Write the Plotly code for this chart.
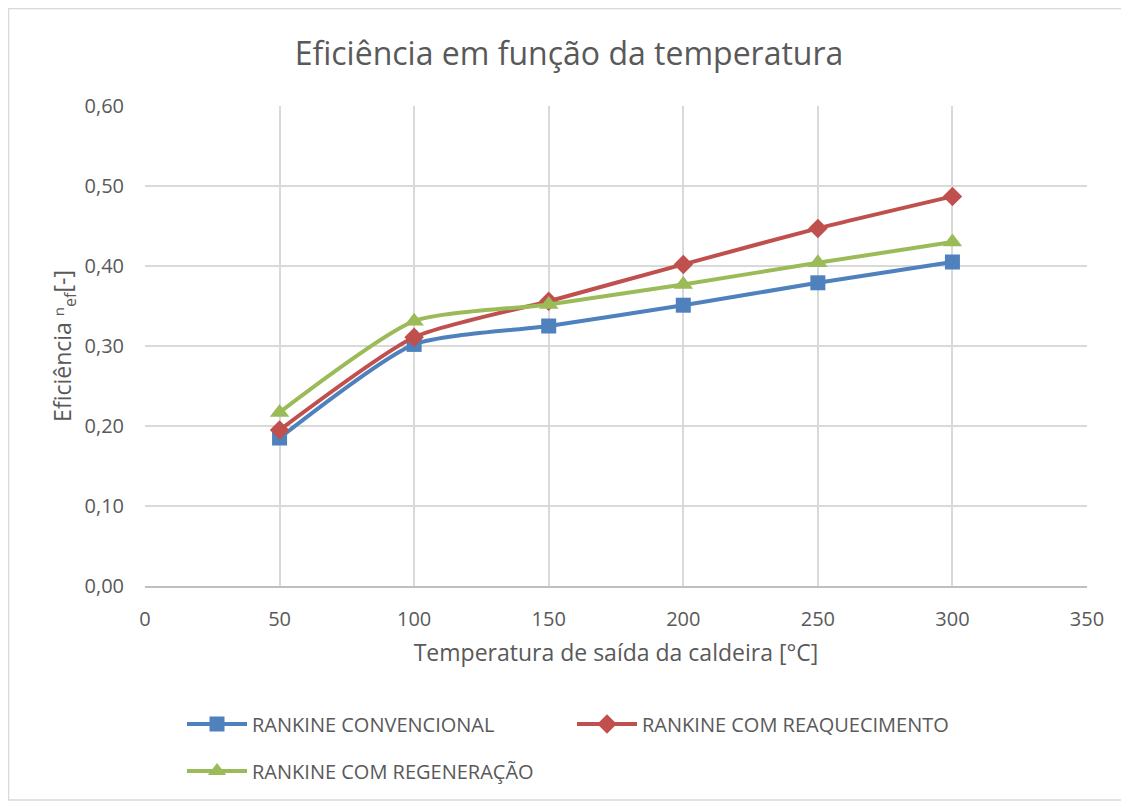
import plotly.graph_objects as go

temperaturas = [50, 100, 150, 200, 250, 300]
convencional = [0.185, 0.302, 0.325, 0.351, 0.379, 0.405]
reaquecimento = [0.195, 0.311, 0.356, 0.402, 0.447, 0.487]
regeneracao = [0.217, 0.331, 0.352, 0.377, 0.404, 0.430]

series = [
    ("RANKINE CONVENCIONAL", convencional, "#4F81BD", "square", 15, "legend"),
    ("RANKINE COM REAQUECIMENTO", reaquecimento, "#C0504D", "diamond", 15, "legend2"),
    ("RANKINE COM REGENERAÇÃO", regeneracao, "#9BBB59", "triangle-up", 17, "legend3"),
]

# page offset (body margin) of 8px
OFF = 8
W, H = 1129 - OFF, 803 - OFF
L, T, R, B = 145 - OFF, 106 - OFF, 42, 217
PW, PH = 1129 - 42 - 145, 586 - 106


def px_x(ax):
    return (ax - 145) / PW


def px_y(ay):
    return (586 - ay) / PH


fig = go.Figure()
for name, vals, color, sym, size, lg in series:
    fig.add_trace(go.Scatter(
        x=temperaturas, y=vals, name=name, mode="lines+markers",
        line=dict(color=color, width=4, shape="spline", smoothing=0.6),
        marker=dict(symbol=sym, size=size, color=color),
        legend=lg,
    ))

font_family = "Open Sans, Liberation Sans, sans-serif"
txt = "#595959"
leg_common = dict(font=dict(size=20, color=txt), itemwidth=60,
                  xanchor="left", yanchor="middle", bgcolor="rgba(0,0,0,0)")

fig.update_layout(
    width=W, height=H,
    margin=dict(l=L, r=R, t=T, b=B),
    paper_bgcolor="white", plot_bgcolor="white",
    separators=", ",
    font=dict(family=font_family, color=txt, size=20),
    title=dict(text="Eficiência em função da temperatura",
               x=(569 - OFF) / W, xanchor="center",
               y=1 - (54 - OFF) / H, yanchor="middle",
               font=dict(size=32, color=txt)),
    xaxis=dict(range=[0, 350], tickvals=[0, 50, 100, 150, 200, 250, 300, 350],
               showgrid=True, gridcolor="#D9D9D9", gridwidth=1.5,
               showline=True, linecolor="#BFBFBF", linewidth=1.5,
               zeroline=False, ticks="", ticklabelstandoff=14,
               tickfont=dict(size=20, color=txt),
               title=dict(text="Temperatura de saída da caldeira [°C]",
                          font=dict(size=23, color=txt), standoff=14)),
    yaxis=dict(range=[0, 0.6], dtick=0.1, tickformat=".2f",
               showgrid=True, gridcolor="#D9D9D9", gridwidth=1.5,
               zeroline=False, showline=False, ticks="", ticklabelstandoff=20,
               tickfont=dict(size=20, color=txt),
               title=dict(text="Eficiência ⁿ<sub>ef</sub>[-]",
                          font=dict(size=23, color=txt), standoff=6)),
    legend=dict(x=px_x(182), y=px_y(724), **leg_common),
    legend2=dict(x=px_x(572), y=px_y(724), **leg_common),
    legend3=dict(x=px_x(182), y=px_y(771), **leg_common),
    showlegend=True,
)

fig.add_shape(type="rect", xref="paper", yref="paper",
              x0=px_x(OFF + 0.5), x1=px_x(1127),
              y0=px_y(800), y1=px_y(OFF + 0.5),
              line=dict(color="#D9D9D9", width=1.5), layer="below")

fig.write_html("out.html")
